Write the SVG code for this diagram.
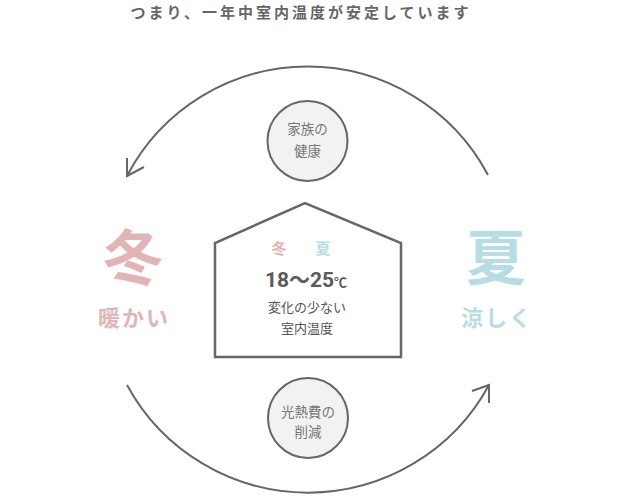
<svg xmlns="http://www.w3.org/2000/svg" width="625" height="497" viewBox="0 0 625 497">
<defs>
<style>
text{font-family:"Noto Sans CJK JP","Noto Sans",sans-serif;text-anchor:middle}
.title{font-size:15px;font-weight:bold;fill:#666;letter-spacing:3px}
.node{fill:#f2f2f2;stroke:#666;stroke-width:2}
.ntext{font-size:13.5px;fill:#777}
.arc{fill:none;stroke:#666;stroke-width:2}
.pink{fill:#e2b5b5}
.blue{fill:#b7dde4}
.big{font-size:60px;font-weight:bold}
.sub{font-size:22px;font-weight:bold;letter-spacing:2px}
.house{fill:#fff;stroke:#666;stroke-width:2.5}
</style>
</defs>
<rect width="625" height="497" fill="#fff"/>
<text class="title" x="301" y="18">つまり、一年中室内温度が安定しています</text>
<g id="connectors">
<path class="arc" d="M488,175 A204,204 0 0 0 127,176"/>
<path class="arc" d="M127,158 L127,176 L144,167"/>
<path class="arc" d="M127,385 A206,206 0 0 0 489,385"/>
<path class="arc" d="M472,391 L489,385 L489,403"/>
</g>
<g id="node-health">
<circle class="node" cx="307.5" cy="141" r="40"/>
<text class="ntext" x="307.5" y="134">家族の</text>
<text class="ntext" x="307.5" y="156">健康</text>
</g>
<g id="node-cost">
<circle class="node" cx="308" cy="418" r="40"/>
<text class="ntext" x="308" y="417">光熱費の</text>
<text class="ntext" x="308" y="437">削減</text>
</g>
<g id="node-winter">
<text class="pink big" x="133" y="280">冬</text>
<text class="pink sub" x="134" y="326">暖かい</text>
</g>
<g id="node-summer">
<text class="blue big" x="496" y="280">夏</text>
<text class="blue sub" x="497" y="326">涼しく</text>
</g>
<g id="node-house">
<polygon class="house" points="215,357 215,243 305,203 401,243 401,357"/>
<text class="pink" x="279" y="254" style="font-size:15px;font-weight:bold">冬</text>
<text class="blue" x="323" y="254" style="font-size:15px;font-weight:bold">夏</text>
<text x="306" y="287" style="font-size:21px;font-weight:bold;fill:#5a5a5a;font-family:'Roboto','Noto Sans CJK JP',sans-serif">18〜25<tspan style="font-size:13px">℃</tspan></text>
<text x="307" y="312" style="font-size:13px;fill:#555">変化の少ない</text>
<text x="307" y="333" style="font-size:13px;fill:#555">室内温度</text>
</g>
</svg>
